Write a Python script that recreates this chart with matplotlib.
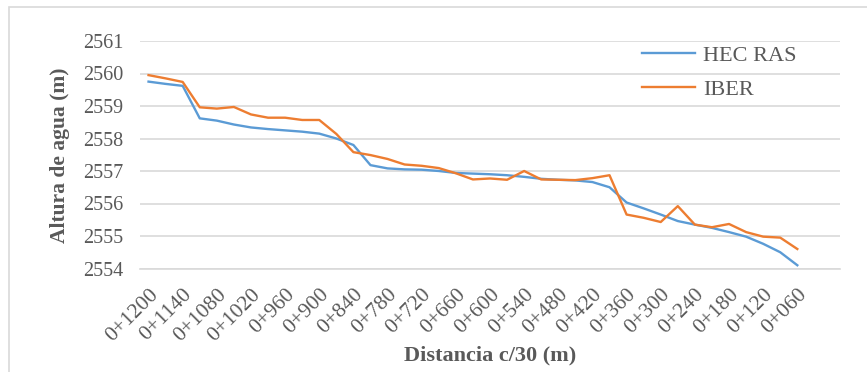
import matplotlib
matplotlib.use("Agg")
import matplotlib.pyplot as plt
from matplotlib.patches import Rectangle

# Stations (abscissa, every 30 m) and water surface elevations
stations = [f"0+{d:03d}" for d in range(1200, 0, -30)]  # 0+1200 ... 0+030
hec_ras = [2559.75, 2559.68, 2559.62, 2558.62, 2558.55, 2558.43, 2558.34, 2558.29,
           2558.25, 2558.21, 2558.15, 2558.00, 2557.80, 2557.18, 2557.08, 2557.05,
           2557.04, 2557.00, 2556.94, 2556.92, 2556.90, 2556.87, 2556.82, 2556.76,
           2556.73, 2556.71, 2556.66, 2556.50, 2556.03, 2555.85, 2555.66, 2555.46,
           2555.35, 2555.25, 2555.12, 2554.98, 2554.76, 2554.50, 2554.10]
iber = [2559.95, 2559.85, 2559.74, 2558.96, 2558.92, 2558.97, 2558.74, 2558.64,
        2558.64, 2558.57, 2558.57, 2558.14, 2557.58, 2557.49, 2557.37, 2557.20,
        2557.16, 2557.09, 2556.93, 2556.74, 2556.77, 2556.73, 2557.00, 2556.74,
        2556.73, 2556.72, 2556.78, 2556.87, 2555.66, 2555.56, 2555.43, 2555.92,
        2555.35, 2555.27, 2555.37, 2555.12, 2554.98, 2554.95, 2554.60]
y_ticks = [2554, 2555, 2556, 2557, 2558, 2559, 2560, 2561]

W, H = 867, 372
plt.rcParams["font.family"] = ["Liberation Serif", "DejaVu Serif"]
text_color = "#595959"
grid_color = "#D9D9D9"

fig = plt.figure(figsize=(W / 100, H / 100), dpi=100)
fig.patch.set_facecolor("white")

# chart border
fig.add_artist(Rectangle((8.5 / W, -0.2), 2.0, 1.2 - 6.5 / H,
                         transform=fig.transFigure, fill=False,
                         edgecolor=grid_color, linewidth=1.2))

ax = fig.add_axes([140 / W, (H - 268.5) / H, 700 / W, (268.5 - 41) / H])
x_hec = list(range(len(hec_ras)))
x_iber = list(range(len(iber)))
ax.plot(x_hec, hec_ras, color="#5B9BD5", lw=1.7, label="HEC RAS", solid_joinstyle="round")
ax.plot(x_iber, iber, color="#ED7D31", lw=1.7, label="IBER", solid_joinstyle="round")

ax.set_xlim(-0.5, len(stations) + 1 - 0.5)
ax.set_ylim(y_ticks[0], y_ticks[-1])
ax.set_yticks(y_ticks)
ax.set_yticklabels([str(v) for v in y_ticks])
ax.yaxis.grid(True, color=grid_color, lw=1.2)
ax.set_axisbelow(True)
for s in ["top", "right", "left"]:
    ax.spines[s].set_visible(False)
ax.spines["bottom"].set_color(grid_color)
ax.spines["bottom"].set_linewidth(1.2)

tick_idx = list(range(0, len(hec_ras), 2))
ax.set_xticks(tick_idx)
ax.set_xticklabels([stations[i] for i in tick_idx], rotation=45, ha="right",
                   va="top", rotation_mode="anchor")
ax.tick_params(axis="both", length=0, colors=text_color)
ax.tick_params(axis="y", pad=12, labelsize=14.5)
ax.tick_params(axis="x", pad=12, labelsize=15.5)

fig.text(490 / W, 1 - 355 / H, "Distancia c/30 (m)", ha="center", va="center",
         fontsize=16, fontweight="bold", color=text_color)
fig.text(60 / W, 1 - 155 / H, "Altura de agua (m)", ha="center", va="center",
         rotation=90, fontsize=15.5, fontweight="bold", color=text_color)

leg = ax.legend(loc="upper left", bbox_to_anchor=(622 / W, 1 - 25 / H),
                bbox_transform=fig.transFigure, frameon=False, fontsize=16,
                handlelength=2.4, handletextpad=0.35, labelspacing=0.62,
                labelcolor=text_color)

fig.savefig("out.png", dpi=100)
